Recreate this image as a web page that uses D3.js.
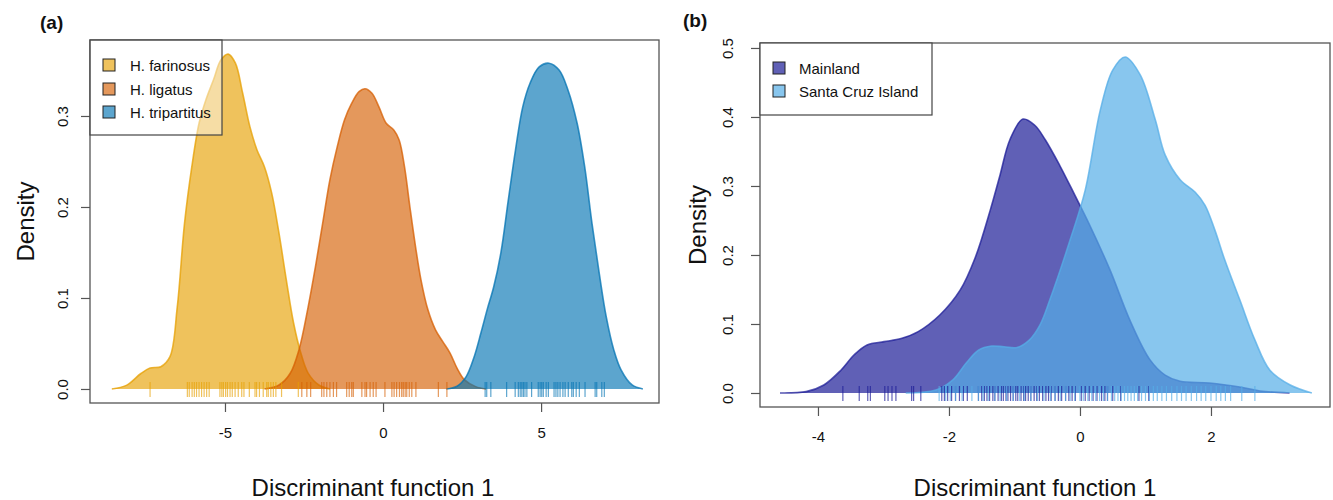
<!DOCTYPE html>
<html>
<head>
<meta charset="utf-8">
<script src="https://cdn.jsdelivr.net/npm/d3@7"></script>
<style>
body { margin: 0; background: #fff; }
text { font-family: "Liberation Sans", Arial, Helvetica, sans-serif; fill: #111; }
</style>
</head>
<body>
<svg id="chart" width="1333" height="500"></svg>
<script>
// Panel (a) - density of discriminant function 1 per species
// values: [df1, density]
var farinosusDensity = [[-8.58, 0], [-8.12, 0.004], [-7.66, 0.017], [-7.37, 0.023], [-7.03, 0.0245], [-6.74, 0.0355],
	[-6.51, 0.090], [-6.28, 0.182], [-6.05, 0.244], [-5.82, 0.292], [-5.60, 0.318], [-5.36, 0.340], [-5.13, 0.3615],
	[-4.90, 0.368], [-4.67, 0.358], [-4.44, 0.325], [-4.21, 0.288], [-3.99, 0.263], [-3.75, 0.244], [-3.52, 0.215],
	[-3.29, 0.171], [-3.06, 0.120], [-2.83, 0.0725], [-2.60, 0.0395], [-2.37, 0.0175], [-2.03, 0.0044], [-1.68, 0]];
var ligatusDensity = [[-3.75, 0], [-3.29, 0.0044], [-2.94, 0.017], [-2.66, 0.043], [-2.37, 0.090], [-2.14, 0.134],
	[-1.91, 0.182], [-1.68, 0.230], [-1.45, 0.266], [-1.22, 0.2956], [-0.99, 0.314], [-0.76, 0.3267], [-0.57, 0.330],
	[-0.35, 0.325], [-0.13, 0.310], [0.10, 0.292], [0.34, 0.2846], [0.51, 0.2736], [0.68, 0.244], [0.85, 0.200],
	[1.03, 0.156], [1.20, 0.120], [1.42, 0.087], [1.66, 0.065], [1.89, 0.052], [2.12, 0.0395], [2.34, 0.023],
	[2.58, 0.010], [2.93, 0.0026], [3.26, 0]];
var tripartitusDensity = [[2.00, 0], [2.34, 0.003], [2.63, 0.0136], [2.87, 0.034], [3.10, 0.062], [3.30, 0.088],
	[3.50, 0.112], [3.73, 0.150], [3.96, 0.207], [4.19, 0.2626], [4.42, 0.310], [4.65, 0.336], [4.94, 0.354],
	[5.25, 0.358], [5.57, 0.3505], [5.85, 0.3286], [6.14, 0.292], [6.38, 0.244], [6.61, 0.182], [6.84, 0.127],
	[7.06, 0.0795], [7.30, 0.043], [7.53, 0.021], [7.88, 0.0044], [8.22, 0]];

var farinosusRug = [-7.37, -6.19, -6.13, -6.04, -5.97, -5.90, -5.82, -5.74, -5.66, -5.58, -5.50, -5.16, -5.10, -5.05,
	-4.98, -4.92, -4.84, -4.77, -4.68, -4.58, -4.47, -4.40, -4.23, -4.05, -4.00, -3.91, -3.79, -3.68, -3.63, -3.55,
	-3.47, -3.39, -3.21, -2.68];
var ligatusRug = [-2.57, -2.41, -2.29, -1.94, -1.87, -1.78, -1.68, -1.57, -1.47, -1.15, -1.07, -0.99, -0.94, -0.67,
	-0.57, -0.52, -0.41, -0.31, -0.22, 0.06, 0.28, 0.35, 0.43, 0.52, 0.59, 0.64, 0.70, 0.75, 0.83, 0.91, 1.04, 1.75, 2.02];
var tripartitusRug = [3.23, 3.28, 3.41, 3.91, 4.18, 4.28, 4.34, 4.39, 4.44, 4.49, 4.55, 4.70, 4.91, 4.97, 5.02, 5.07,
	5.16, 5.23, 5.41, 5.47, 5.53, 5.60, 5.69, 5.76, 5.86, 5.97, 6.02, 6.11, 6.21, 6.39, 6.71, 6.76, 6.92, 7.00];

var speciesNames = ["H. farinosus", "H. ligatus", "H. tripartitus"];
var speciesColours = ["#E69F00", "#D55E00", "#0072B2"];
var panelAXTicks = [-5, 0, 5];
var panelAYTicks = [0, 0.1, 0.2, 0.3];

// Panel (b) - mainland vs island
var mainlandDensity = [[-4.58, 0], [-4.18, 0.002], [-3.91, 0.0116], [-3.65, 0.033], [-3.45, 0.055], [-3.25, 0.0696],
	[-2.99, 0.0744], [-2.73, 0.079], [-2.47, 0.089], [-2.14, 0.113], [-1.83, 0.149], [-1.60, 0.196], [-1.37, 0.265],
	[-1.22, 0.316], [-1.07, 0.367], [-0.87, 0.397], [-0.69, 0.388], [-0.53, 0.367], [-0.31, 0.330], [-0.08, 0.287],
	[0.15, 0.243], [0.46, 0.178], [0.76, 0.106], [1.07, 0.048], [1.30, 0.026], [1.53, 0.017], [1.98, 0.0145],
	[2.44, 0.0087], [2.75, 0.003], [3.20, 0]];
var santaCruzDensity = [[-2.66, 0], [-2.20, 0.0043], [-1.94, 0.019], [-1.74, 0.043], [-1.55, 0.062], [-1.35, 0.068],
	[-1.16, 0.067], [-0.96, 0.066], [-0.77, 0.077], [-0.61, 0.0986], [-0.46, 0.135], [-0.15, 0.222], [0.08, 0.294],
	[0.31, 0.410], [0.50, 0.468], [0.69, 0.487], [0.92, 0.461], [1.15, 0.396], [1.30, 0.345], [1.53, 0.309],
	[1.76, 0.291], [1.91, 0.272], [2.06, 0.236], [2.21, 0.193], [2.44, 0.135], [2.67, 0.077], [2.90, 0.033],
	[3.21, 0.0116], [3.54, 0]];

var mainlandRug = [-3.62, -3.37, -3.24, -3.20, -2.98, -2.93, -2.87, -2.81, -2.57, -2.54, -2.43, -2.11, -2.07, -2.02,
	-1.96, -1.90, -1.84, -1.78, -1.72, -1.55, -1.50, -1.46, -1.42, -1.38, -1.33, -1.30, -1.25, -1.20, -1.17, -1.13,
	-1.10, -1.06, -1.02, -0.98, -0.95, -0.90, -0.86, -0.83, -0.79, -0.75, -0.70, -0.66, -0.62, -0.57, -0.52, -0.48,
	-0.44, -0.38, -0.33, -0.28, -0.22, -0.17, -0.12, -0.07, 0.02, 0.08, 0.14, 0.20, 0.26, 0.33, 0.38, 0.42, 0.50,
	0.62, 0.90, 1.05];
var santaCruzRug = [-2.15, -2.05, -1.98, -1.90, -1.80, -1.65, -1.55, -1.48, -1.40, -1.30, -1.22, -1.12, -1.02, -0.92,
	-0.85, -0.75, -0.65, -0.55, -0.45, -0.38, -0.30, -0.22, -0.15, -0.08, 0.00, 0.05, 0.12, 0.18, 0.24, 0.30, 0.36,
	0.42, 0.48, 0.53, 0.58, 0.63, 0.68, 0.73, 0.78, 0.83, 0.88, 0.94, 1.00, 1.06, 1.12, 1.18, 1.25, 1.32, 1.40, 1.48,
	1.55, 1.62, 1.70, 1.78, 1.85, 1.92, 2.00, 2.08, 2.15, 2.22, 2.30, 2.47, 2.67];

var originNames = ["Mainland", "Santa Cruz Island"];
var originColours = ["#1C1C97", "#55AEE7"];
var panelBXTicks = [-4, -2, 0, 2];
var panelBYTicks = [0, 0.1, 0.2, 0.3, 0.4, 0.5];

var svg = d3.select("#chart");

drawPanel({
	label: "(a)", labelX: 40, labelY: 29,
	left: 90, right: 659, top: 40, bottom: 403,
	xDomain: [-9.27, 8.73], yDomain: [-0.0154, 0.3835],
	xTicks: panelAXTicks, yTicks: panelAYTicks,
	yLabelOffset: 28, densityX: 25, titleX: 373, alpha: 0.64,
	series: [
		{ name: speciesNames[0], colour: speciesColours[0], density: farinosusDensity, rug: farinosusRug },
		{ name: speciesNames[1], colour: speciesColours[1], density: ligatusDensity, rug: ligatusRug },
		{ name: speciesNames[2], colour: speciesColours[2], density: tripartitusDensity, rug: tripartitusRug }
	],
	legend: { x: 90, y: 40, w: 132, h: 95, rowY: [65, 89, 112], boxX: 103, textX: 130, bgAlpha: 0.45 }
});

drawPanel({
	label: "(b)", labelX: 683, labelY: 27,
	left: 760, right: 1330, top: 43, bottom: 407,
	xDomain: [-4.885, 3.817], yDomain: [-0.0203, 0.5072],
	xTicks: panelBXTicks, yTicks: panelBYTicks,
	yLabelOffset: 33, densityX: 697, titleX: 1035, alpha: 0.7,
	series: [
		{ name: originNames[0], colour: originColours[0], density: mainlandDensity, rug: mainlandRug },
		{ name: originNames[1], colour: originColours[1], density: santaCruzDensity, rug: santaCruzRug }
	],
	legend: { x: 760, y: 43, w: 172, h: 72, rowY: [68, 91], boxX: 773, textX: 799, bgAlpha: 1 }
});

function drawPanel(cfg) {
	var x = d3.scaleLinear().domain(cfg.xDomain).range([cfg.left, cfg.right]);
	var y = d3.scaleLinear().domain(cfg.yDomain).range([cfg.bottom, cfg.top]);
	var g = svg.append("g");

	var area = d3.area()
		.x(d => x(d[0]))
		.y0(y(0))
		.y1(d => y(d[1]))
		.curve(d3.curveCatmullRom);
	var line = d3.line()
		.x(d => x(d[0]))
		.y(d => y(d[1]))
		.curve(d3.curveCatmullRom);

	// densities, in order so later ones sit on top
	cfg.series.forEach(function(s) {
		g.append("path")
			.attr("d", area(s.density))
			.attr("fill", s.colour)
			.attr("fill-opacity", cfg.alpha);
		g.append("path")
			.attr("d", line(s.density))
			.attr("fill", "none")
			.attr("stroke", s.colour)
			.attr("stroke-opacity", 0.75)
			.attr("stroke-width", 1.6);
	});

	// rugs sit on the zero line
	cfg.series.forEach(function(s) {
		g.append("g").selectAll("line")
			.data(s.rug)
			.join("line")
			.attr("x1", d => x(d)).attr("x2", d => x(d))
			.attr("y1", y(0) - 7).attr("y2", y(0) + 8)
			.attr("stroke", s.colour)
			.attr("stroke-opacity", cfg.alpha)
			.attr("stroke-width", 1.2);
	});

	// axes, R style (plain hyphen for minus)
	var fmtX = d => String(d);
	var fmtY = d => d.toFixed(1);
	var xAxis = g.append("g")
		.attr("transform", "translate(0," + cfg.bottom + ")")
		.call(d3.axisBottom(x).tickValues(cfg.xTicks).tickSize(9).tickPadding(15).tickFormat(fmtX));
	var yAxis = g.append("g")
		.attr("transform", "translate(" + cfg.left + ",0)")
		.call(d3.axisLeft(y).tickValues(cfg.yTicks).tickSize(9).tickFormat(fmtY));
	[xAxis, yAxis].forEach(function(a) {
		a.select(".domain").remove();
		a.selectAll(".tick line").attr("stroke", "#555").attr("stroke-width", 1.2);
		a.selectAll("text").style("font-size", "15px").attr("fill", "#111")
			.style("font-family", "'Liberation Sans', Arial, sans-serif");
	});
	xAxis.selectAll("text").attr("dy", "0.71em");
	yAxis.selectAll(".tick text")
		.attr("x", null).attr("dy", null)
		.attr("text-anchor", "middle")
		.attr("dominant-baseline", "central")
		.attr("transform", "translate(" + (-cfg.yLabelOffset) + ",0) rotate(-90)");

	// box
	g.append("rect")
		.attr("x", cfg.left).attr("y", cfg.top)
		.attr("width", cfg.right - cfg.left).attr("height", cfg.bottom - cfg.top)
		.attr("fill", "none").attr("stroke", "#555").attr("stroke-width", 1.3);

	// legend
	var L = cfg.legend;
	var leg = g.append("g");
	leg.append("rect")
		.attr("x", L.x).attr("y", L.y).attr("width", L.w).attr("height", L.h)
		.attr("fill", "#fff").attr("fill-opacity", L.bgAlpha)
		.attr("stroke", "#444").attr("stroke-width", 1.2);
	cfg.series.forEach(function(s, i) {
		leg.append("rect")
			.attr("x", L.boxX).attr("y", L.rowY[i] - 6).attr("width", 12).attr("height", 12)
			.attr("fill", s.colour).attr("fill-opacity", cfg.alpha)
			.attr("stroke", "#222").attr("stroke-width", 1);
		leg.append("text")
			.attr("x", L.textX).attr("y", L.rowY[i])
			.attr("dominant-baseline", "central")
			.style("font-size", "15px")
			.text(s.name);
	});

	// titles
	g.append("text")
		.attr("x", cfg.titleX).attr("y", 487)
		.attr("text-anchor", "middle").attr("dominant-baseline", "central")
		.style("font-size", "24px")
		.text("Discriminant function 1");
	g.append("text")
		.attr("transform", "translate(" + cfg.densityX + "," + ((cfg.top + cfg.bottom) / 2) + ") rotate(-90)")
		.attr("text-anchor", "middle").attr("dominant-baseline", "central")
		.style("font-size", "24px")
		.text("Density");
	g.append("text")
		.attr("x", cfg.labelX).attr("y", cfg.labelY)
		.style("font-size", "19px").style("font-weight", "bold")
		.text(cfg.label);
}
</script>
</body>
</html>
